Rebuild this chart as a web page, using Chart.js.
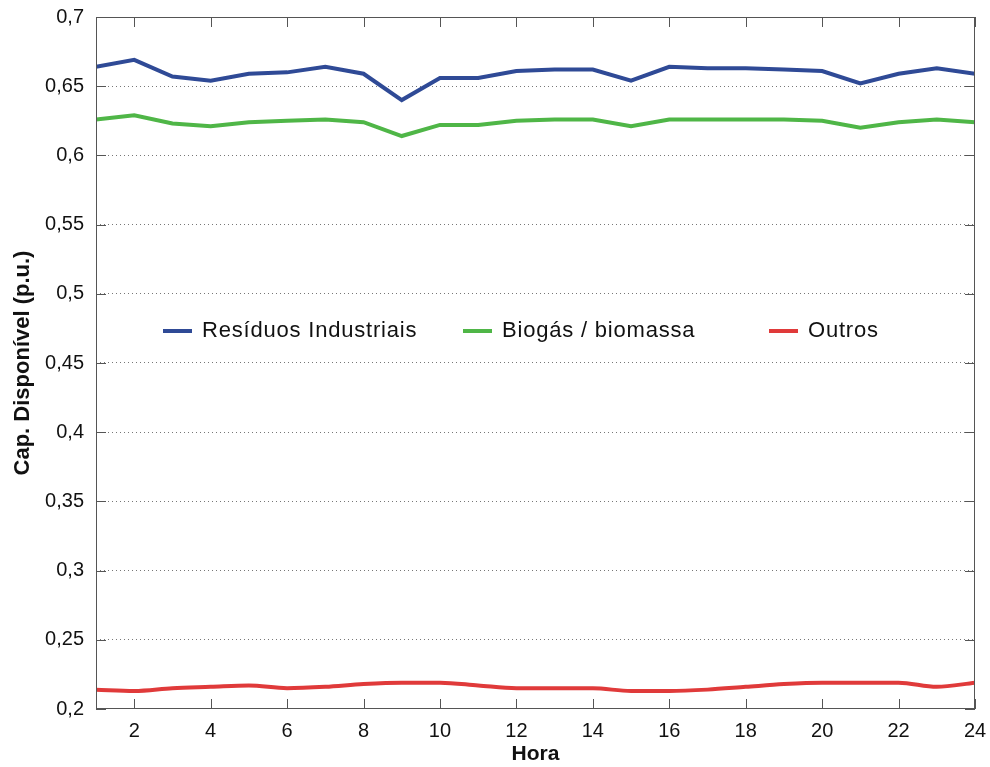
<!DOCTYPE html>
<html>
<head>
<meta charset="utf-8">
<script src="https://cdn.jsdelivr.net/npm/chart.js@4/dist/chart.umd.min.js"></script>
<style>
  html, body { margin: 0; padding: 0; background: #fff; }
  #wrap { width: 990px; height: 767px; }
</style>
</head>
<body>
<div id="wrap"><canvas id="chart" width="990" height="767"></canvas></div>
<script>
// Data
const hours = [1,2,3,4,5,6,7,8,9,10,11,12,13,14,15,16,17,18,19,20,21,22,23,24];
const residuos = [0.664,0.669,0.657,0.654,0.659,0.660,0.664,0.659,0.640,0.656,0.656,0.661,
                  0.662,0.662,0.654,0.664,0.663,0.663,0.662,0.661,0.652,0.659,0.663,0.659];
const biogas = [0.626,0.629,0.623,0.621,0.624,0.625,0.626,0.624,0.614,0.622,0.622,0.625,
                0.626,0.626,0.621,0.626,0.626,0.626,0.626,0.625,0.620,0.624,0.626,0.624];
const outros = [0.214,0.213,0.215,0.216,0.217,0.215,0.216,0.218,0.219,0.219,0.217,0.215,
                0.215,0.215,0.213,0.213,0.214,0.216,0.218,0.219,0.219,0.219,0.216,0.219];
const xTicks = [2,4,6,8,10,12,14,16,18,20,22,24];
const yTicks = [0.2,0.25,0.3,0.35,0.4,0.45,0.5,0.55,0.6,0.65,0.7];
const seriesNames = ['Resíduos Industriais', 'Biogás / biomassa', 'Outros'];
const seriesColors = ['#2f4a96', '#4fb647', '#e03a3a'];

const fontFamily = '"Liberation Sans", Arial, Helvetica, sans-serif';

function toXY(values) {
    return values.map((v, i) => ({ x: hours[i], y: v }));
}

// box, inner ticks and in-plot legend
const framePlugin = {
    id: 'frame',
    afterDraw(chart) {
        const { ctx, chartArea: a, scales } = chart;
        ctx.save();
        ctx.strokeStyle = '#555';
        ctx.lineWidth = 1;
        ctx.setLineDash([]);
        ctx.strokeRect(a.left + 0.5, a.top + 0.5, a.right - a.left - 1, a.bottom - a.top - 1);
        const len = 10;
        ctx.beginPath();
        xTicks.forEach(v => {
            const px = Math.round(scales.x.getPixelForValue(v)) + 0.5;
            ctx.moveTo(px, a.bottom); ctx.lineTo(px, a.bottom - len);
            ctx.moveTo(px, a.top); ctx.lineTo(px, a.top + len);
        });
        yTicks.forEach(v => {
            const py = Math.round(scales.y.getPixelForValue(v)) + 0.5;
            ctx.moveTo(a.left, py); ctx.lineTo(a.left + len, py);
            ctx.moveTo(a.right, py); ctx.lineTo(a.right - len, py);
        });
        ctx.stroke();

        // legend inside plot
        const ly = 331;
        const offsets = [67, 367, 673];
        ctx.font = '22px ' + fontFamily;
        ctx.letterSpacing = '0.8px';
        ctx.textBaseline = 'middle';
        ctx.textAlign = 'left';
        seriesNames.forEach((name, i) => {
            const x0 = a.left + offsets[i];
            ctx.strokeStyle = seriesColors[i];
            ctx.lineWidth = 4;
            ctx.beginPath();
            ctx.moveTo(x0, ly); ctx.lineTo(x0 + 29, ly);
            ctx.stroke();
            ctx.fillStyle = '#111';
            ctx.fillText(name, x0 + 39, ly);
        });
        ctx.restore();
    }
};

new Chart(document.getElementById('chart').getContext('2d'), {
    type: 'line',
    data: {
        datasets: [
            { label: seriesNames[0], data: toXY(residuos), borderColor: seriesColors[0], borderWidth: 4, tension: 0, pointRadius: 0 },
            { label: seriesNames[1], data: toXY(biogas), borderColor: seriesColors[1], borderWidth: 4, tension: 0, pointRadius: 0 },
            { label: seriesNames[2], data: toXY(outros), borderColor: seriesColors[2], borderWidth: 4, tension: 0.4, cubicInterpolationMode: 'monotone', pointRadius: 0 }
        ]
    },
    options: {
        responsive: false,
        animation: false,
        layout: { padding: { top: 17, right: 15, left: 0, bottom: 0 } },
        plugins: { legend: { display: false }, tooltip: { enabled: false } },
        scales: {
            x: {
                type: 'linear',
                min: 1,
                max: 24,
                afterBuildTicks: scale => { scale.ticks = xTicks.map(v => ({ value: v })); },
                afterFit: scale => { scale.height = 58; scale.paddingLeft = 0; scale.paddingRight = 0; },
                grid: { display: false, drawTicks: false },
                border: { display: false },
                ticks: {
                    color: '#111',
                    padding: 10,
                    maxRotation: 0,
                    font: { family: fontFamily, size: 20 },
                    callback: v => String(v)
                },
                title: {
                    display: true,
                    text: 'Hora',
                    color: '#111',
                    padding: { top: 2, bottom: 0 },
                    font: { family: fontFamily, size: 21, weight: 'bold' }
                }
            },
            y: {
                min: 0.2,
                max: 0.7,
                afterBuildTicks: scale => { scale.ticks = yTicks.map(v => ({ value: v })); },
                afterFit: scale => { scale.width = 96; scale.paddingTop = 0; scale.paddingBottom = 0; },
                grid: {
                    color: ctx => (ctx.tick && (ctx.tick.value <= 0.2 || ctx.tick.value >= 0.7)) ? 'rgba(0,0,0,0)' : '#777',
                    lineWidth: 1,
                    drawTicks: false
                },
                border: { display: false, dash: [1, 3] },
                ticks: {
                    color: '#111',
                    padding: 12,
                    font: { family: fontFamily, size: 20 },
                    callback: v => Number(v.toFixed(2)).toString().replace('.', ',')
                },
                title: {
                    display: true,
                    text: 'Cap. Disponível (p.u.)',
                    color: '#111',
                    padding: { top: 10, bottom: 0 },
                    font: { family: fontFamily, size: 22, weight: 'bold' }
                }
            }
        }
    },
    plugins: [framePlugin]
});
</script>
</body>
</html>
